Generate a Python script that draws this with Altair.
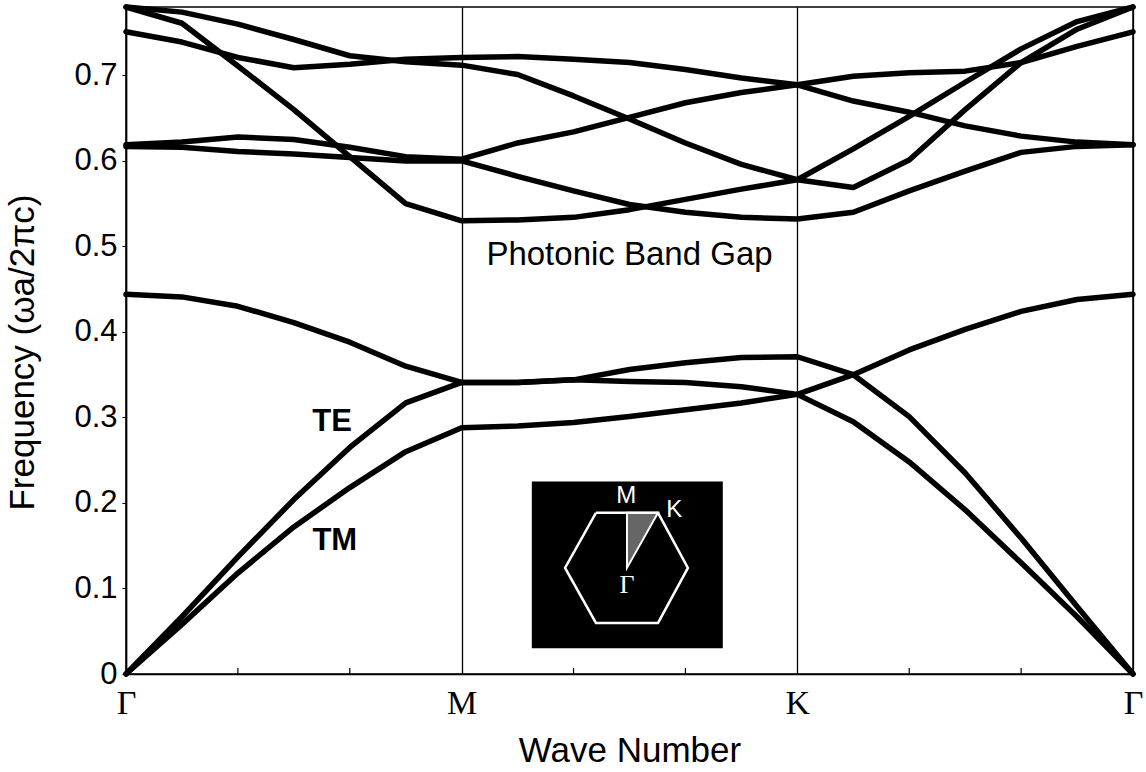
import altair as alt
import pandas as pd

# k = 0..18 : Γ (0) → M (6) → K (12) → Γ (18); x = k/6
band1 = [0.000, 0.058, 0.118, 0.172, 0.218, 0.260, 0.288, 0.290, 0.294, 0.301, 0.309, 0.317, 0.327,
         0.295, 0.248, 0.192, 0.130, 0.067, 0.000]
band2 = [0.000, 0.067, 0.137, 0.204, 0.265, 0.317, 0.341, 0.341, 0.344, 0.342, 0.341, 0.336, 0.327,
         0.350, 0.379, 0.403, 0.424, 0.438, 0.444]
band3 = [0.444, 0.441, 0.430, 0.411, 0.388, 0.360, 0.341, 0.341, 0.344, 0.356, 0.364, 0.370, 0.371,
         0.350, 0.301, 0.235, 0.159, 0.079, 0.000]
band4 = [0.751, 0.739, 0.721, 0.709, 0.713, 0.719, 0.721, 0.722, 0.719, 0.715, 0.707, 0.697, 0.689,
         0.699, 0.703, 0.705, 0.715, 0.734, 0.751]
band5 = [0.780, 0.774, 0.760, 0.742, 0.723, 0.716, 0.712, 0.701, 0.676, 0.649, 0.621, 0.596, 0.578,
         0.614, 0.652, 0.692, 0.731, 0.763, 0.780]
band6 = [0.780, 0.761, 0.711, 0.660, 0.605, 0.550, 0.530, 0.531, 0.534, 0.543, 0.555, 0.567, 0.578,
         0.569, 0.601, 0.660, 0.715, 0.754, 0.780]
band7 = [0.619, 0.622, 0.628, 0.625, 0.616, 0.605, 0.602, 0.621, 0.634, 0.651, 0.668, 0.680, 0.689,
         0.670, 0.657, 0.641, 0.629, 0.622, 0.619]
band8 = [0.617, 0.616, 0.611, 0.608, 0.604, 0.600, 0.600, 0.582, 0.565, 0.549, 0.540, 0.534, 0.532,
         0.540, 0.565, 0.588, 0.610, 0.617, 0.619]

tick_values = [0, 1, 2, 3]
tick_labels = ["Γ", "M", "K", "Γ"]
minor_ticks = [1/3, 2/3, 4/3, 5/3, 7/3, 8/3]
y_ticks = [0, 0.1, 0.2, 0.3, 0.4, 0.5, 0.6, 0.7]

# inset (Brillouin zone) geometry in data units
inset_box = {"x": 1.209, "x2": 1.778, "y": 0.030, "y2": 0.225}
hex_x = [1.400, 1.585, 1.674, 1.585, 1.400, 1.308, 1.400]
hex_y = [0.1885, 0.1885, 0.1241, 0.0597, 0.0597, 0.1241, 0.1885]
wedge_x = [1.4925, 1.585]
wedge_lo = [0.1241, 0.1885]
wedge_hi = [0.1885, 0.1885]
inset_labels = ["M", "K"]
inset_lx = [1.490, 1.633]
inset_ly = [0.208, 0.192]
gamma_pos = (1.4925, 0.104)

annotations = ["Photonic Band Gap"]
ann_x = [1.5]
ann_y = [0.490]
pol_labels = ["TE", "TM"]
pol_x = [0.614, 0.622]
pol_y = [0.295, 0.156]

bands = [band1, band2, band3, band4, band5, band6, band7, band8]
rows = []
for b, vals in enumerate(bands):
    for k, v in enumerate(vals):
        rows.append({"band": b, "x": k / 6, "y": v})
df = pd.DataFrame(rows)

xscale = alt.Scale(domain=[0, 3], nice=False, zero=False)
yscale = alt.Scale(domain=[0, 0.78], nice=False, zero=False)

sans = "Liberation Sans"
serif = "Liberation Serif"

label_expr = "[" + ",".join("'" + t + "'" for t in tick_labels) + "][datum.value]"

xaxis = alt.Axis(
    values=tick_values, labelExpr=label_expr,
    grid=True, gridColor="black", gridWidth=1.3, gridOpacity=1,
    ticks=False, domainColor="black", domainWidth=1.5,
    labelFont=serif, labelFontSize=34, labelColor="black", labelPadding=12,
    labelFlush=False, labelOverlap=False,
    title="Wave Number", titleFont=sans, titleFontSize=35, titleFontWeight="normal",
    titleColor="black", titleY=87, titleBaseline="alphabetic")
yaxis = alt.Axis(
    values=y_ticks, labelExpr="datum.value == 0 ? '0' : format(datum.value, '.1f')",
    grid=False, tickColor="black", tickSize=4, domainColor="black", domainWidth=1.5,
    labelFont=sans, labelFontSize=31, labelColor="black", labelPadding=5,
    labelFlush=False, labelOverlap=False,
    title="Frequency (ωa/2πc)", titleFont=sans, titleFontSize=35, titleFontWeight="normal",
    titleColor="black", titleX=-93, titleY=345, titleBaseline="alphabetic")


def X(field):
    return alt.X(field, scale=xscale, axis=xaxis, title="Wave Number")


def Y(field):
    return alt.Y(field, scale=yscale, axis=yaxis, title="Frequency (ωa/2πc)")


lines = alt.Chart(df).mark_line(color="black", strokeWidth=5.5, strokeJoin="round", strokeCap="round").encode(
    x=X("x:Q"), y=Y("y:Q"), detail="band:N",
)

minor_df = pd.DataFrame({"x": minor_ticks, "y0": [0.0] * len(minor_ticks), "y1": [0.007] * len(minor_ticks)})
minor = alt.Chart(minor_df).mark_rule(color="black", strokeWidth=1.2).encode(
    x=X("x:Q"), y=Y("y0:Q"), y2="y1:Q",
)

box = alt.Chart(pd.DataFrame([inset_box])).mark_rect(color="black").encode(
    x=X("x:Q"), x2="x2:Q", y=Y("y:Q"), y2="y2:Q",
)

wedge_df = pd.DataFrame({"x": wedge_x, "lo": wedge_lo, "hi": wedge_hi})
wedge = alt.Chart(wedge_df).mark_area(color="#666666", stroke="white", strokeWidth=2).encode(
    x=X("x:Q"), y=Y("lo:Q"), y2="hi:Q",
)

hex_df = pd.DataFrame({"x": hex_x, "y": hex_y, "i": list(range(len(hex_x)))})
hexagon = alt.Chart(hex_df).mark_line(color="white", strokeWidth=2.5).encode(
    x=X("x:Q"), y=Y("y:Q"), order="i:Q",
)

ilab = alt.Chart(pd.DataFrame({"t": inset_labels, "x": inset_lx, "y": inset_ly})).mark_text(
    color="white", font=sans, fontSize=24, align="center", baseline="middle").encode(
    x=X("x:Q"), y=Y("y:Q"), text="t:N")

glab = alt.Chart(pd.DataFrame({"t": ["Γ"], "x": [gamma_pos[0]], "y": [gamma_pos[1]]})).mark_text(
    color="white", font=serif, fontSize=26, align="center", baseline="middle").encode(
    x=X("x:Q"), y=Y("y:Q"), text="t:N")

ann = alt.Chart(pd.DataFrame({"t": annotations, "x": ann_x, "y": ann_y})).mark_text(
    color="black", font=sans, fontSize=33, align="center", baseline="middle").encode(
    x=X("x:Q"), y=Y("y:Q"), text="t:N")

pol = alt.Chart(pd.DataFrame({"t": pol_labels, "x": pol_x, "y": pol_y})).mark_text(
    color="black", font=sans, fontSize=31, fontWeight="bold", align="center", baseline="middle").encode(
    x=X("x:Q"), y=Y("y:Q"), text="t:N")

chart = alt.layer(lines, minor, box, wedge, hexagon, ilab, glab, ann, pol).properties(
    width=1007, height=667,
    padding={"left": 126, "top": 7, "right": 13, "bottom": 98},
    autosize=alt.AutoSizeParams(type="none"),
    background="white",
).configure_view(stroke="black", strokeWidth=1.5)

chart.save("out.html", embed_options={"renderer": "svg", "actions": False})
